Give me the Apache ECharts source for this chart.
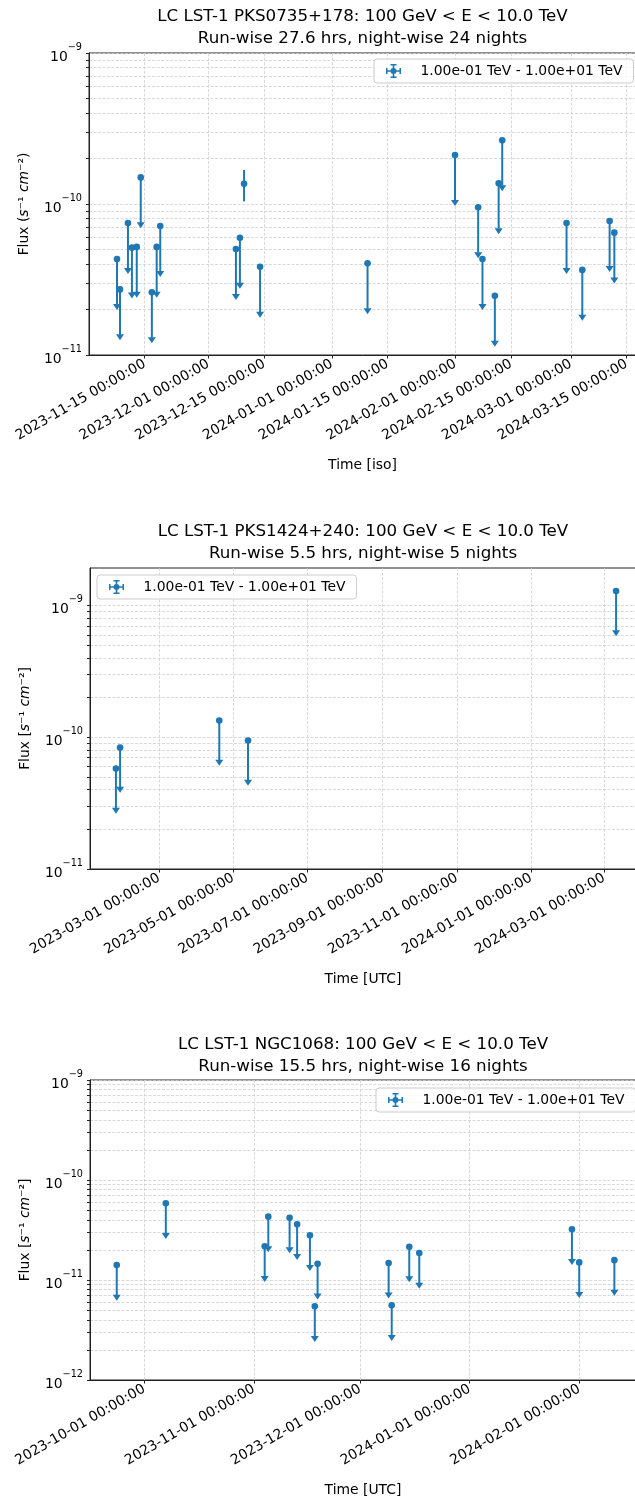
<!DOCTYPE html>
<html><head><meta charset="utf-8">
<script src="https://cdn.jsdelivr.net/npm/echarts@6/dist/echarts.min.js"></script>
<style>html,body{margin:0;padding:0;overflow:hidden;background:#fff}#main{width:640px;height:1501px}</style>
</head><body><div id="main"></div>
<script>
const FONT = 'DejaVu Sans';
const COLOR = '#1f77b4';
const LEGEND_NAME = '1.00e-01 TeV - 1.00e+01 TeV';

// ---------- Panel 1: PKS0735+178 ----------
const title1 = ['LC LST-1 PKS0735+178: 100 GeV < E < 10.0 TeV', 'Run-wise 27.6 hrs, night-wise 24 nights'];
const ulTimes1 = ['2023-11-08T01:00','2023-11-08T19:00','2023-11-10T19:00','2023-11-11T19:00','2023-11-13T00:00','2023-11-14T00:00','2023-11-16T19:00','2023-11-18T00:00','2023-11-18T21:30','2023-12-07T21:30','2023-12-08T21:30','2023-12-13T23:00','2024-01-09T22:30','2024-01-31T21:30','2024-02-06T17:00','2024-02-07T19:00','2024-02-10T21:30','2024-02-11T20:30','2024-02-12T18:00','2024-02-28T21:30','2024-03-03T20:30','2024-03-10T17:00','2024-03-11T21:30'];
const ulFlux1 = [4.32e-11,2.72e-11,7.48e-11,5.14e-11,5.2e-11,1.5e-10,2.6e-11,5.2e-11,7.15e-11,5.04e-11,5.98e-11,3.84e-11,4.05e-11,2.11e-10,9.5e-11,4.32e-11,2.47e-11,1.37e-10,2.64e-10,7.48e-11,3.66e-11,7.72e-11,6.46e-11];
const detTimes1 = ['2023-12-09T22:30'];
const detFlux1 = [1.36e-10];
const detErr1 = [0.32e-10];
const xTickLabels1 = ['2023-11-15 00:00:00','2023-12-01 00:00:00','2023-12-15 00:00:00','2024-01-01 00:00:00','2024-01-15 00:00:00','2024-02-01 00:00:00','2024-02-15 00:00:00','2024-03-01 00:00:00','2024-03-15 00:00:00'];
const yDecades1 = [-11,-10,-9];

// ---------- Panel 2: PKS1424+240 ----------
const title2 = ['LC LST-1 PKS1424+240: 100 GeV < E < 10.0 TeV', 'Run-wise 5.5 hrs, night-wise 5 nights'];
const ulTimes2 = ['2023-01-24T14:00','2023-01-28T00:00','2023-04-19T14:00','2023-05-13T05:00','2024-03-10T22:00'];
const ulFlux2 = [5.79e-11,8.36e-11,1.34e-10,9.44e-11,1.29e-9];
const xTickLabels2 = ['2023-03-01 00:00:00','2023-05-01 00:00:00','2023-07-01 00:00:00','2023-09-01 00:00:00','2023-11-01 00:00:00','2024-01-01 00:00:00','2024-03-01 00:00:00'];
const yDecades2 = [-11,-10,-9];

// ---------- Panel 3: NGC1068 ----------
const title3 = ['LC LST-1 NGC1068: 100 GeV < E < 10.0 TeV', 'Run-wise 15.5 hrs, night-wise 16 nights'];
const ulTimes3 = ['2023-09-23T05:00','2023-10-07T02:00','2023-11-04T01:00','2023-11-05T01:30','2023-11-11T02:00','2023-11-13T05:00','2023-11-16T20:00','2023-11-18T05:00','2023-11-19T00:00','2023-12-09T02:00','2023-12-09T23:00','2023-12-14T22:00','2023-12-17T18:00','2024-01-29T22:00','2024-01-31T23:30','2024-02-10T22:00'];
const ulFlux3 = [1.41e-11,5.85e-11,2.17e-11,4.3e-11,4.2e-11,3.6e-11,2.8e-11,5.46e-12,1.45e-11,1.48e-11,5.58e-12,2.15e-11,1.86e-11,3.21e-11,1.5e-11,1.58e-11];
const xTickLabels3 = ['2023-10-01 00:00:00','2023-11-01 00:00:00','2023-12-01 00:00:00','2024-01-01 00:00:00','2024-02-01 00:00:00'];
const yDecades3 = [-12,-11,-10,-9];

// ---------- helpers ----------
const ARROW_FACTOR = 0.5; // matplotlib upper-limit arrow drawn down to half the value
const ts = s => Date.parse(s.replace(' ', 'T') + 'Z');
const minorMult = [1,2,3,4,5,6,7,8,9];
function yTicks(decs){ const out=[]; decs.forEach(d=>minorMult.forEach(m=>out.push(m*Math.pow(10,d)))); return out; }
function yLabels(decs){ return decs.map(d=>Math.pow(10,d)); }

const ICON = 'path://M1,6.2H15V7.8H1Z M7.2,0.8H8.8V13.2H7.2Z M0.5,4H2V10H0.5Z M14,4H15.5V10H14Z M5,0H11V1.5H5Z M5,12.5H11V14H5Z M11,7A3,3 0 1 1 5,7A3,3 0 1 1 11,7Z';

function ulRender(params, api){
  const t = api.value(0), v = api.value(1);
  const p = api.coord([t, v]);
  const q = api.coord([t, v*ARROW_FACTOR]);
  return {type:'group', children:[
    {type:'line', shape:{x1:p[0],y1:p[1],x2:q[0],y2:q[1]}, style:{stroke:COLOR, lineWidth:2}},
    {type:'polygon', shape:{points:[[q[0]-4,q[1]-0.5],[q[0]+4,q[1]-0.5],[q[0],q[1]+5.5]]}, style:{fill:COLOR}},
    {type:'circle', shape:{cx:p[0],cy:p[1],r:3.3}, style:{fill:COLOR}}
  ]};
}
function detRender(params, api){
  const t = api.value(0), v = api.value(1), e = api.value(2);
  const p = api.coord([t, v]);
  const lo = api.coord([t, v-e]);
  const hi = api.coord([t, v+e]);
  return {type:'group', children:[
    {type:'line', shape:{x1:lo[0],y1:lo[1],x2:hi[0],y2:hi[1]}, style:{stroke:COLOR, lineWidth:2}},
    {type:'circle', shape:{cx:p[0],cy:p[1],r:3.3}, style:{fill:COLOR}}
  ]};
}

const panels = [
  {title:title1, yName:'Flux ({i|s}⁻¹ {i|cm}⁻²)', xName:'Time [iso]', grid:{left:89,top:53,width:547,height:302},
   xMin:'2023-11-01T00:15', xMax:'2024-03-17T08:00', yMin:1e-11, yMax:1e-9, xTicks:xTickLabels1, yDec:yDecades1,
   ul:[ulTimes1, ulFlux1], det:[detTimes1, detFlux1, detErr1], titleTop:6, legend:{left:374, top:59}},
  {title:title2, yName:'Flux [{i|s}⁻¹ {i|cm}⁻²]', xName:'Time [UTC]', grid:{left:90,top:568,width:546,height:301},
   xMin:'2023-01-03T06:00', xMax:'2024-03-27T07:00', yMin:1e-11, yMax:1.93e-9, xTicks:xTickLabels2, yDec:yDecades2,
   ul:[ulTimes2, ulFlux2], det:null, titleTop:521, legend:{left:97, top:575}},
  {title:title3, yName:'Flux [{i|s}⁻¹ {i|cm}⁻²]', xName:'Time [UTC]', grid:{left:90,top:1080,width:546,height:300},
   xMin:'2023-09-15T15:30', xMax:'2024-02-17T00:45', yMin:1e-12, yMax:1e-9, xTicks:xTickLabels3, yDec:yDecades3,
   ul:[ulTimes3, ulFlux3], det:null, titleTop:1034, legend:{left:376, top:1088}}
];

const gridLine = {show:true, lineStyle:{color:'#cfcfcf', width:0.8, type:[3,1.5]}};
const option = {animation:false, backgroundColor:'#fff', title:[], legend:[], grid:[], xAxis:[], yAxis:[], series:[]};

panels.forEach((P, i) => {
  option.title.push({text:P.title.join('\n'), left:P.grid.left + P.grid.width/2, top:P.titleTop, textAlign:'center', padding:0,
    textStyle:{fontSize:16.7, fontWeight:'normal', fontFamily:FONT, color:'#000', lineHeight:22}});
  option.legend.push({left:P.legend.left, top:P.legend.top, data:[{name:LEGEND_NAME, icon:ICON}], itemWidth:16, itemHeight:14,
    padding:[5,11,5,12], selectedMode:false, borderColor:'#cccccc', borderWidth:1, borderRadius:3, backgroundColor:'rgba(255,255,255,0.8)',
    textStyle:{fontSize:13.9, fontFamily:FONT, color:'#000', padding:[0,0,0,14]}});
  option.grid.push(Object.assign({show:true, borderColor:'#222', borderWidth:1, backgroundColor:'transparent'}, P.grid));
  const xt = P.xTicks.map(ts);
  option.xAxis.push({type:'value', gridIndex:i, min:ts(P.xMin), max:ts(P.xMax), scale:true,
    name:P.xName, nameLocation:'middle', nameGap:103, nameTextStyle:{fontSize:13.9, fontFamily:FONT, color:'#000'},
    axisLine:{show:true, lineStyle:{color:'#222', width:1}},
    axisTick:{show:true, length:3.5, inside:false, customValues:xt, lineStyle:{color:'#222', width:1}},
    axisLabel:{show:true, customValues:xt, rotate:30, margin:8, fontSize:13.9, fontFamily:FONT, color:'#000',
      formatter: v => new Date(v).toISOString().slice(0,10) + ' 00:00:00'},
    splitLine:gridLine, minorTick:{show:false}, minorSplitLine:{show:false}});
  option.yAxis.push({type:'log', logBase:10, gridIndex:i, min:P.yMin, max:P.yMax,
    name:P.yName, nameLocation:'middle', nameGap:58,
    nameTextStyle:{fontSize:13.9, fontFamily:FONT, color:'#000', rich:{i:{fontStyle:'italic', fontSize:13.9, fontFamily:FONT, color:'#000'}}},
    axisLine:{show:true, lineStyle:{color:'#222', width:1}},
    axisTick:{show:true, length:3, inside:false, customValues:yTicks(P.yDec), lineStyle:{color:'#222', width:1}},
    axisLabel:{show:true, customValues:yLabels(P.yDec), margin:7,
      formatter: v => { const e = Math.round(Math.log10(v)); return '{b|10}{s|' + (e<0?'−':'') + Math.abs(e) + '}'; },
      rich:{b:{fontSize:13.9, fontFamily:FONT, color:'#000', lineHeight:22, verticalAlign:'bottom'},
            s:{fontSize:9.7, fontFamily:FONT, color:'#000', lineHeight:12, verticalAlign:'top'}}},
    splitLine:gridLine, minorTick:{show:false}, minorSplitLine:{show:false}});
  option.series.push({type:'custom', name:LEGEND_NAME, xAxisIndex:i, yAxisIndex:i, itemStyle:{color:COLOR},
    renderItem:ulRender, encode:{x:0, y:1},
    data:P.ul[0].map((t,k)=>[ts(t), P.ul[1][k]])});
  if (P.det){
    option.series.push({type:'custom', name:LEGEND_NAME, xAxisIndex:i, yAxisIndex:i, itemStyle:{color:COLOR},
      renderItem:detRender, encode:{x:0, y:1},
      data:P.det[0].map((t,k)=>[ts(t), P.det[1][k], P.det[2][k]])});
  }
});

const chart = echarts.init(document.getElementById('main'), null, {renderer:'canvas'});
chart.setOption(option);
</script></body></html>
